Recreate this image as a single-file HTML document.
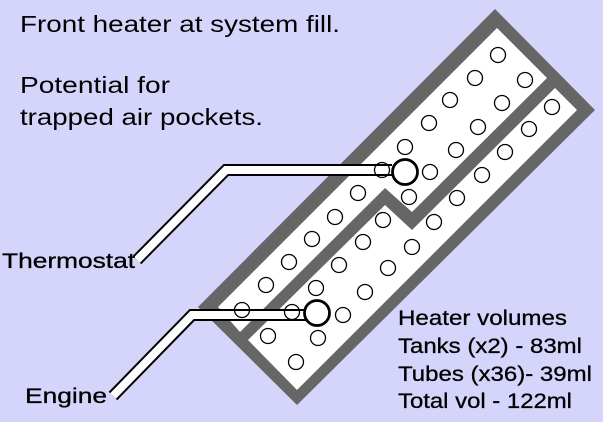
<!DOCTYPE html>
<html><head><style>html,body{margin:0;padding:0;background:#d5d5fc;}svg{display:block}</style></head>
<body>
<svg width="603" height="422" viewBox="0 0 603 422" xmlns="http://www.w3.org/2000/svg" font-family="Liberation Sans, Arial, sans-serif">
<rect width="603" height="422" fill="#d5d5fc"/>
<g font-size="23">
<text x="20" y="32" textLength="320" lengthAdjust="spacingAndGlyphs">Front heater at system fill.</text>
<text x="20" y="93" textLength="150" lengthAdjust="spacingAndGlyphs">Potential for</text>
<text x="20" y="125" textLength="243" lengthAdjust="spacingAndGlyphs">trapped air pockets.</text>
</g>
<polygon points="495,9 595,110 297,405 198,307" fill="#666"/>
<polygon points="497,28 547,78 412,212 385,188 240,332 218,307" fill="#fff"/>
<polygon points="555,88 577,110 297,390 248,340 385,205 412,230" fill="#fff"/>
<g fill="none" stroke="#000" stroke-width="1.3">
<circle cx="498" cy="55" r="7.5"/><circle cx="475" cy="78" r="7.5"/><circle cx="525" cy="80" r="7.5"/>
<circle cx="450" cy="100" r="7.5"/><circle cx="502" cy="103" r="7.5"/><circle cx="552" cy="107" r="7.5"/>
<circle cx="429" cy="123" r="7.5"/><circle cx="478" cy="127" r="7.5"/><circle cx="529" cy="129" r="7.5"/>
<circle cx="405" cy="147" r="7.5"/><circle cx="456" cy="150" r="7.5"/><circle cx="505" cy="152" r="7.5"/>
<circle cx="430" cy="172" r="7.5"/><circle cx="482" cy="175" r="7.5"/>
<circle cx="409" cy="197" r="7.5"/><circle cx="457" cy="198" r="7.5"/><circle cx="358" cy="193" r="7.5"/>
<circle cx="383" cy="220" r="7.5"/><circle cx="434" cy="222" r="7.5"/><circle cx="335" cy="217" r="7.5"/>
<circle cx="363" cy="242" r="7.5"/><circle cx="412" cy="247" r="7.5"/><circle cx="312" cy="239" r="7.5"/>
<circle cx="339" cy="265" r="7.5"/><circle cx="388" cy="268" r="7.5"/><circle cx="289" cy="262" r="7.5"/>
<circle cx="316" cy="288" r="7.5"/><circle cx="365" cy="292" r="7.5"/><circle cx="266" cy="285" r="7.5"/>
<circle cx="343" cy="315" r="7.5"/><circle cx="318" cy="338" r="7.5"/><circle cx="268" cy="336" r="7.5"/>
<circle cx="296" cy="362" r="7.5"/>
</g>
<polyline points="137,260 226,170 392,170" fill="none" stroke="#000" stroke-width="12"/>
<polyline points="137,260 226,170 394,170" fill="none" stroke="#fff" stroke-width="8"/>
<polyline points="113,396 192,315 306,315" fill="none" stroke="#000" stroke-width="12"/>
<polyline points="113,396 192,315 308,315" fill="none" stroke="#fff" stroke-width="8"/>
<g fill="none" stroke="#000" stroke-width="1.3">
<circle cx="382" cy="170" r="7.5"/><circle cx="242" cy="310" r="7.5"/><circle cx="292" cy="312" r="7.5"/>
</g>
<g fill="#fff" stroke="#000" stroke-width="2.8">
<circle cx="405" cy="172" r="12.5"/><circle cx="317" cy="313" r="12.5"/>
</g>
<g font-size="21" fill="#000" stroke="#000" stroke-width="0.3">
<text x="2" y="268" textLength="133" lengthAdjust="spacingAndGlyphs">Thermostat</text>
<text x="25" y="403" textLength="82" lengthAdjust="spacingAndGlyphs">Engine</text>
<text x="398" y="325" textLength="169" lengthAdjust="spacingAndGlyphs">Heater volumes</text>
<text x="398" y="353" textLength="184" lengthAdjust="spacingAndGlyphs">Tanks (x2) - 83ml</text>
<text x="398" y="381" textLength="194" lengthAdjust="spacingAndGlyphs">Tubes (x36)- 39ml</text>
<text x="398" y="408" textLength="174" lengthAdjust="spacingAndGlyphs">Total vol - 122ml</text>
</g>
</svg>
</body></html>
